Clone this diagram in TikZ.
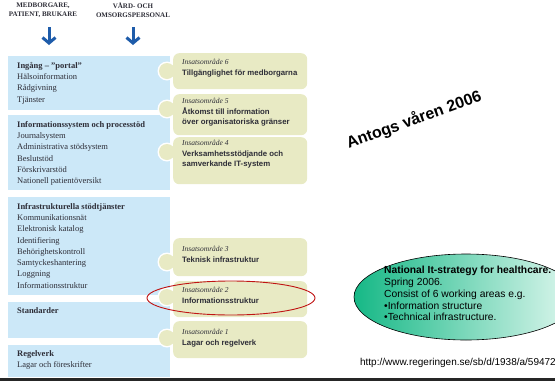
\documentclass[tikz,border=0pt]{standalone}
\usepackage{fontspec}
\setmainfont{Liberation Serif}
\newfontfamily\arial{Liberation Sans}
\usetikzlibrary{arrows.meta}
\definecolor{boxblue}{RGB}{204,232,248}
\definecolor{boxgreen}{RGB}{232,234,196}
\definecolor{arrblue}{RGB}{30,92,170}
\definecolor{txtgray}{RGB}{45,45,55}
\definecolor{ovalgreen}{RGB}{22,184,134}
\definecolor{ovalpale}{RGB}{226,248,240}
\definecolor{ringred}{RGB}{192,20,20}
\newcommand\insatsfont{\itshape\fontsize{7.5}{9}\selectfont}

\begin{document}
\begin{tikzpicture}[x=1pt,y=-1pt,
    bluebox/.style={fill=boxblue,anchor=north west,inner sep=0pt,minimum width=162pt},
    greenbox/.style={fill=boxgreen,rounded corners=6pt,anchor=north west,inner sep=0pt,minimum width=134pt},
    bluetext/.style={anchor=north west,inner sep=0pt,align=left,text=txtgray,font=\fontsize{8.5}{11.3}\selectfont},
    greentext/.style={anchor=north west,inner sep=0pt,align=left,text=txtgray,font=\fontsize{7.8}{9.8}\selectfont},
    hdr/.style={align=center,inner sep=0pt,text=txtgray,font=\bfseries\fontsize{7}{9.5}\selectfont},
    downarr/.style={arrblue,line width=3pt,-{Straight Barb[length=5.5pt,width=13pt]}}]
    \useasboundingbox (0,0) rectangle (555,381);
    \fill[black!85] (0,377.5) rectangle (555,381);

    \node[hdr] (hdA) at (43,10) {MEDBORGARE,\\PATIENT, BRUKARE};
    \node[hdr] (hdB) at (133,10) {VÅRD- OCH\\OMSORGSPERSONAL};
    \coordinate (topA) at (49,27);
    \coordinate (tipA) at (49,45);
    \coordinate (topB) at (133,27);
    \coordinate (tipB) at (133,45);
    \draw[downarr] (topA) -- (tipA);
    \draw[downarr] (topB) -- (tipB);

    \foreach \n/\t/\h in {1/56/54,2/115/75,3/197/98,4/302/36,5/345/32}
        \node[bluebox,minimum height=\h pt] (b\n) at (8,\t) {};

    \node[bluetext] (b1t) at (17,62) {\textbf{Ingång – ”portal”}\\Hälsoinformation\\Rådgivning\\Tjänster};
    \node[bluetext] (b2t) at (17,121) {\textbf{Informationssystem och processtöd}\\Journalsystem\\Administrativa stödsystem\\Beslutstöd\\Förskrivarstöd\\Nationell patientöversikt};
    \node[bluetext] (b3t) at (17,203) {\textbf{Infrastrukturella stödtjänster}\\Kommunikationsnät\\Elektronisk katalog\\Identifiering\\Behörighetskontroll\\Samtyckeshantering\\Loggning\\Informationsstruktur};
    \node[bluetext] (b4t) at (17,307) {\textbf{Standarder}};
    \node[bluetext] (b5t) at (17,350) {\textbf{Regelverk}\\Lagar och föreskrifter};

    \foreach \n/\t/\h/\k in {6/53/36/71,5/94/41/109,4/137/47/152,3/238/38/262,2/281/36/297,1/321/37/338}{
        \fill[white] (167,\k) circle[radius=9.5pt];
        \node[greenbox,minimum height=\h pt] (g\n) at (173,\t) {};
        \fill[boxgreen] (167,\k) circle[radius=8pt];
    }

    \node[greentext] (g6t) at (182,59) {{\insatsfont Insatsområde 6}\\[1pt]{\arial\bfseries Tillgänglighet för medborgarna}};
    \node[greentext] (g5t) at (182,98) {{\insatsfont Insatsområde 5}\\[1pt]{\arial\bfseries Åtkomst till information}\\{\arial\bfseries över organisatoriska gränser}};
    \node[greentext] (g4t) at (182,140) {{\insatsfont Insatsområde 4}\\[1pt]{\arial\bfseries Verksamhetsstödjande och}\\{\arial\bfseries samverkande IT-system}};
    \node[greentext] (g3t) at (182,246) {{\insatsfont Insatsområde 3}\\[1pt]{\arial\bfseries Teknisk infrastruktur}};
    \node[greentext] (g2t) at (182,287) {{\insatsfont Insatsområde 2}\\[1pt]{\arial\bfseries Informationsstruktur}};
    \node[greentext] (g1t) at (182,329) {{\insatsfont Insatsområde 1}\\[1pt]{\arial\bfseries Lagar och regelverk}};

    \draw[ringred,line width=0.9pt] (231,298) ellipse [x radius=84pt,y radius=17pt];

    \node[rotate=20,font=\arial\bfseries\fontsize{16}{18}\selectfont] (antogs) at (414,120) {Antogs våren 2006};

    \shade[left color=ovalgreen,right color=ovalpale,draw=black,line width=0.6pt] (466,297) ellipse [x radius=112pt,y radius=43pt];
    \node[anchor=north west,inner sep=0pt,align=left,font=\arial\fontsize{10.3}{11.8}\selectfont] (strategy) at (384,266)
        {\textbf{National It-strategy for healthcare.}\\Spring 2006.\\Consist of 6 working areas e.g.\\•Information structure\\•Technical infrastructure.};
    \node[anchor=east,inner sep=0pt,font=\arial\fontsize{10}{12}\selectfont] (url) at (556,363) {http://www.regeringen.se/sb/d/1938/a/59472};
\end{tikzpicture}
\end{document}
